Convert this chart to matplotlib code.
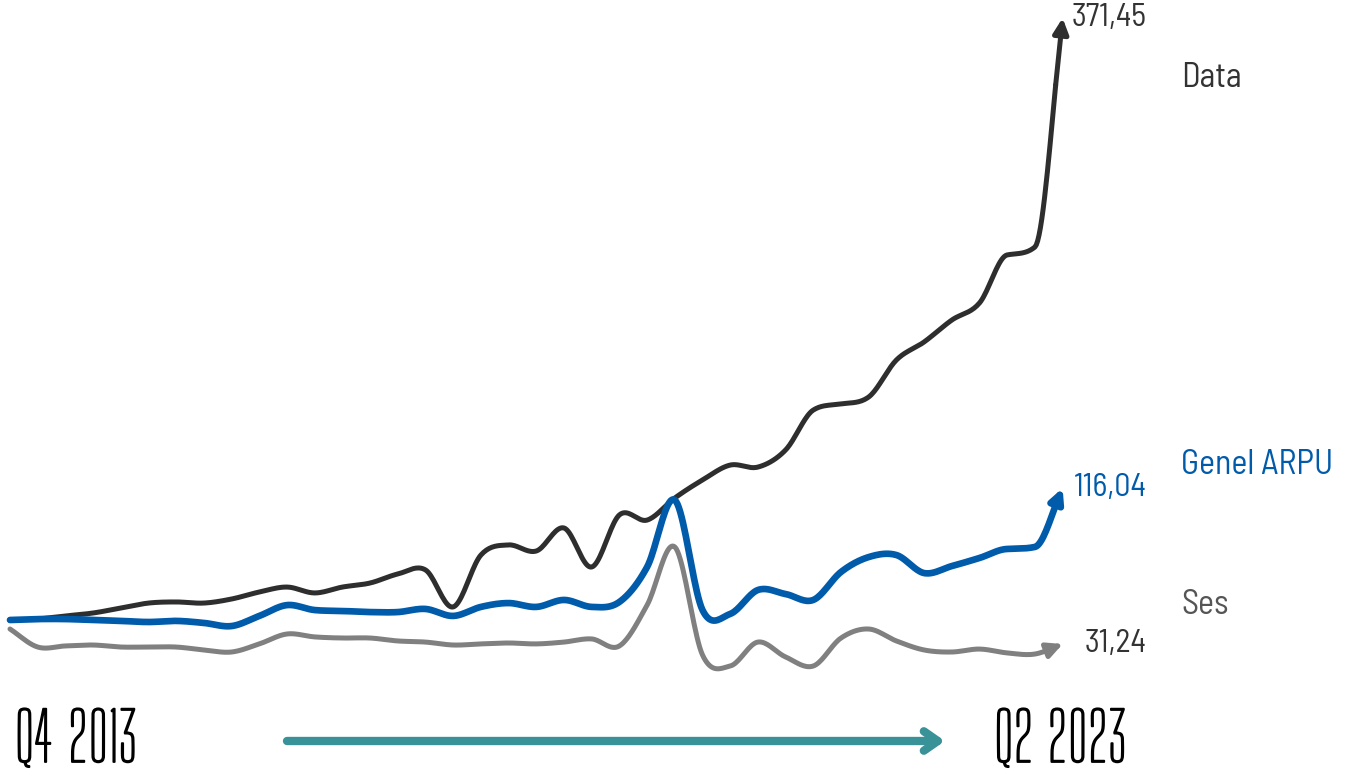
import numpy as np
import matplotlib
matplotlib.use("Agg")
import matplotlib.pyplot as plt
import matplotlib.patheffects as pe

quarters = ["Q4 2013", "Q1 2014", "Q2 2014", "Q3 2014", "Q4 2014", "Q1 2015", "Q2 2015", "Q3 2015", "Q4 2015",
            "Q1 2016", "Q2 2016", "Q3 2016", "Q4 2016", "Q1 2017", "Q2 2017", "Q3 2017", "Q4 2017",
            "Q1 2018", "Q2 2018", "Q3 2018", "Q4 2018", "Q1 2019", "Q2 2019", "Q3 2019", "Q4 2019",
            "Q1 2020", "Q2 2020", "Q3 2020", "Q4 2020", "Q1 2021", "Q2 2021", "Q3 2021", "Q4 2021",
            "Q1 2022", "Q2 2022", "Q3 2022", "Q4 2022", "Q1 2023", "Q2 2023"]

data_vals = [None, 44.8, 46.5, 48.1, 50.8, 53.5, 54.1, 53.5, 55.7, 59.5, 62.2, 59.0, 62.2, 64.4, 69.3,
             71.5, 51.4, 79.6, 85.1, 81.8, 94.3, 73.1, 101.4, 98.6, 110.6, 120.4, 128.5, 127.4, 136.7,
             158.4, 161.7, 165.5, 185.6, 195.4, 207.3, 216.6, 242.7, 247.0, 371.45]
arpu_vals = [44.3, 44.8, 44.8, 44.3, 43.8, 43.2, 43.8, 42.7, 41.0, 46.5, 52.4, 49.7, 49.2, 48.6, 48.6,
             50.3, 46.5, 51.4, 53.5, 51.4, 55.2, 51.4, 54.1, 73.1, 109.5, 49.7, 47.6, 60.6, 58.4,
             55.2, 70.4, 78.5, 79.6, 69.8, 73.6, 78.0, 82.9, 84.0, 116.04]
ses_vals = [39.4, 29.6, 30.2, 30.7, 29.6, 29.6, 29.6, 28.0, 26.9, 31.3, 36.7, 35.1, 34.5, 34.5, 32.9,
            32.3, 30.7, 31.3, 31.8, 31.3, 32.3, 34.0, 30.2, 52.4, 84.0, 25.3, 19.3, 32.3, 24.2,
            19.3, 34.5, 39.4, 32.9, 28.0, 26.9, 28.5, 26.4, 25.8, 31.24]

series_names = ["Data", "Genel ARPU", "Ses"]
end_labels = ["371,45", "116,04", "31,24"]
colors = ["#2e2e2e", "#005bab", "#808080"]
label_colors = ["#333333", "#005bab", "#555555"]
val_colors = ["#333333", "#005bab", "#333333"]

LABEL_FONT = ["Barlow Semi Condensed", "Roboto", "DejaVu Sans"]
BOTTOM_FONT = ["Big Shoulders Display", "Antonio", "DejaVu Sans"]


def smooth(x, y, n=20):
    """Catmull-Rom spline with Fritsch-Carlson limiting on monotone stretches."""
    x = np.asarray(x, float)
    y = np.asarray(y, float)
    h = np.diff(x)
    d = np.diff(y) / h
    m = np.empty_like(y)
    m[0], m[-1] = d[0], d[-1]
    m[1:-1] = (y[2:] - y[:-2]) / (x[2:] - x[:-2])
    for k in range(len(d)):
        if d[k] == 0:
            continue
        a, b = m[k] / d[k], m[k + 1] / d[k]
        same_l = k == 0 or np.sign(d[k - 1]) == np.sign(d[k])
        same_r = k == len(d) - 1 or np.sign(d[k + 1]) == np.sign(d[k])
        s = a * a + b * b
        if s > 9 and same_l and same_r:
            tau = 3 / np.sqrt(s)
            m[k] = tau * a * d[k]
            m[k + 1] = tau * b * d[k]
    xs, ys = [], []
    t = np.linspace(0, 1, n, endpoint=False)
    for k in range(len(d)):
        h00 = 2 * t ** 3 - 3 * t ** 2 + 1
        h10 = t ** 3 - 2 * t ** 2 + t
        h01 = -2 * t ** 3 + 3 * t ** 2
        h11 = t ** 3 - t ** 2
        xs.append(x[k] + t * h[k])
        ys.append(h00 * y[k] + h10 * h[k] * m[k] + h01 * y[k + 1] + h11 * h[k] * m[k + 1])
    return np.concatenate(xs + [[x[-1]]]), np.concatenate(ys + [[y[-1]]])


fig = plt.figure(figsize=(13.5, 7.78), dpi=100)
ax = fig.add_axes([0, 0, 1, 1])
step = 27.7
ax.set_xlim(-10 / step, (1350 - 10) / step)
ax.set_ylim((701.5 - 778) / 1.84, 701.5 / 1.84)
ax.axis("off")


def px_x(p):
    return (p - 10) / step


def px_y(p):
    return (701.5 - p) / 1.84


widths = [3.6, 4.8, 3.6]
heads = ["-|>,head_length=0.9,head_width=0.45", "-|>,head_length=0.8,head_width=0.4",
         "-|>,head_length=0.9,head_width=0.45"]
for vals, c, lw, hs in zip([data_vals, arpu_vals, ses_vals], colors, widths, heads):
    idx = [i for i, v in enumerate(vals) if v is not None]
    yy = [vals[i] for i in idx]
    sx, sy = smooth(idx, yy)
    cut = len(sx) - 6
    ax.plot(sx[:cut + 1], sy[:cut + 1], color=c, lw=lw, solid_capstyle="round", solid_joinstyle="round")
    ax.annotate("", xy=(sx[-1], sy[-1]), xytext=(sx[cut], sy[cut]),
                arrowprops=dict(arrowstyle=hs, color=c, lw=lw, shrinkA=0, shrinkB=0))

val_y = [data_vals[-1], arpu_vals[-1], ses_vals[-1]]
for v, lab, c in zip(val_y, end_labels, val_colors):
    ax.text(px_x(1147), v, lab, ha="right", va="center", fontsize=23, color=c, family=LABEL_FONT)

name_y = [px_y(78), px_y(465), px_y(605)]
for nm, ny, c in zip(series_names, name_y, label_colors):
    ax.text(px_x(1181), ny, nm, ha="left", va="center", fontsize=24.5, color=c, family=LABEL_FONT)

thick = [pe.withStroke(linewidth=1.3, foreground="black")]
ax.text(px_x(15), px_y(742), quarters[0], ha="left", va="center", fontsize=48, color="black",
        family=BOTTOM_FONT, path_effects=thick)
ax.text(px_x(1128), px_y(742), quarters[-1], ha="right", va="center", fontsize=48,
        color="black", family=BOTTOM_FONT, path_effects=thick)
ax.annotate("", xy=(px_x(945), px_y(741)), xytext=(px_x(287), px_y(741)),
            arrowprops=dict(arrowstyle="->,head_length=1.0,head_width=0.7", color="#3a9299", lw=6,
                            capstyle="round", joinstyle="round", shrinkA=0, shrinkB=0))

fig.savefig("out.png", dpi=100)
